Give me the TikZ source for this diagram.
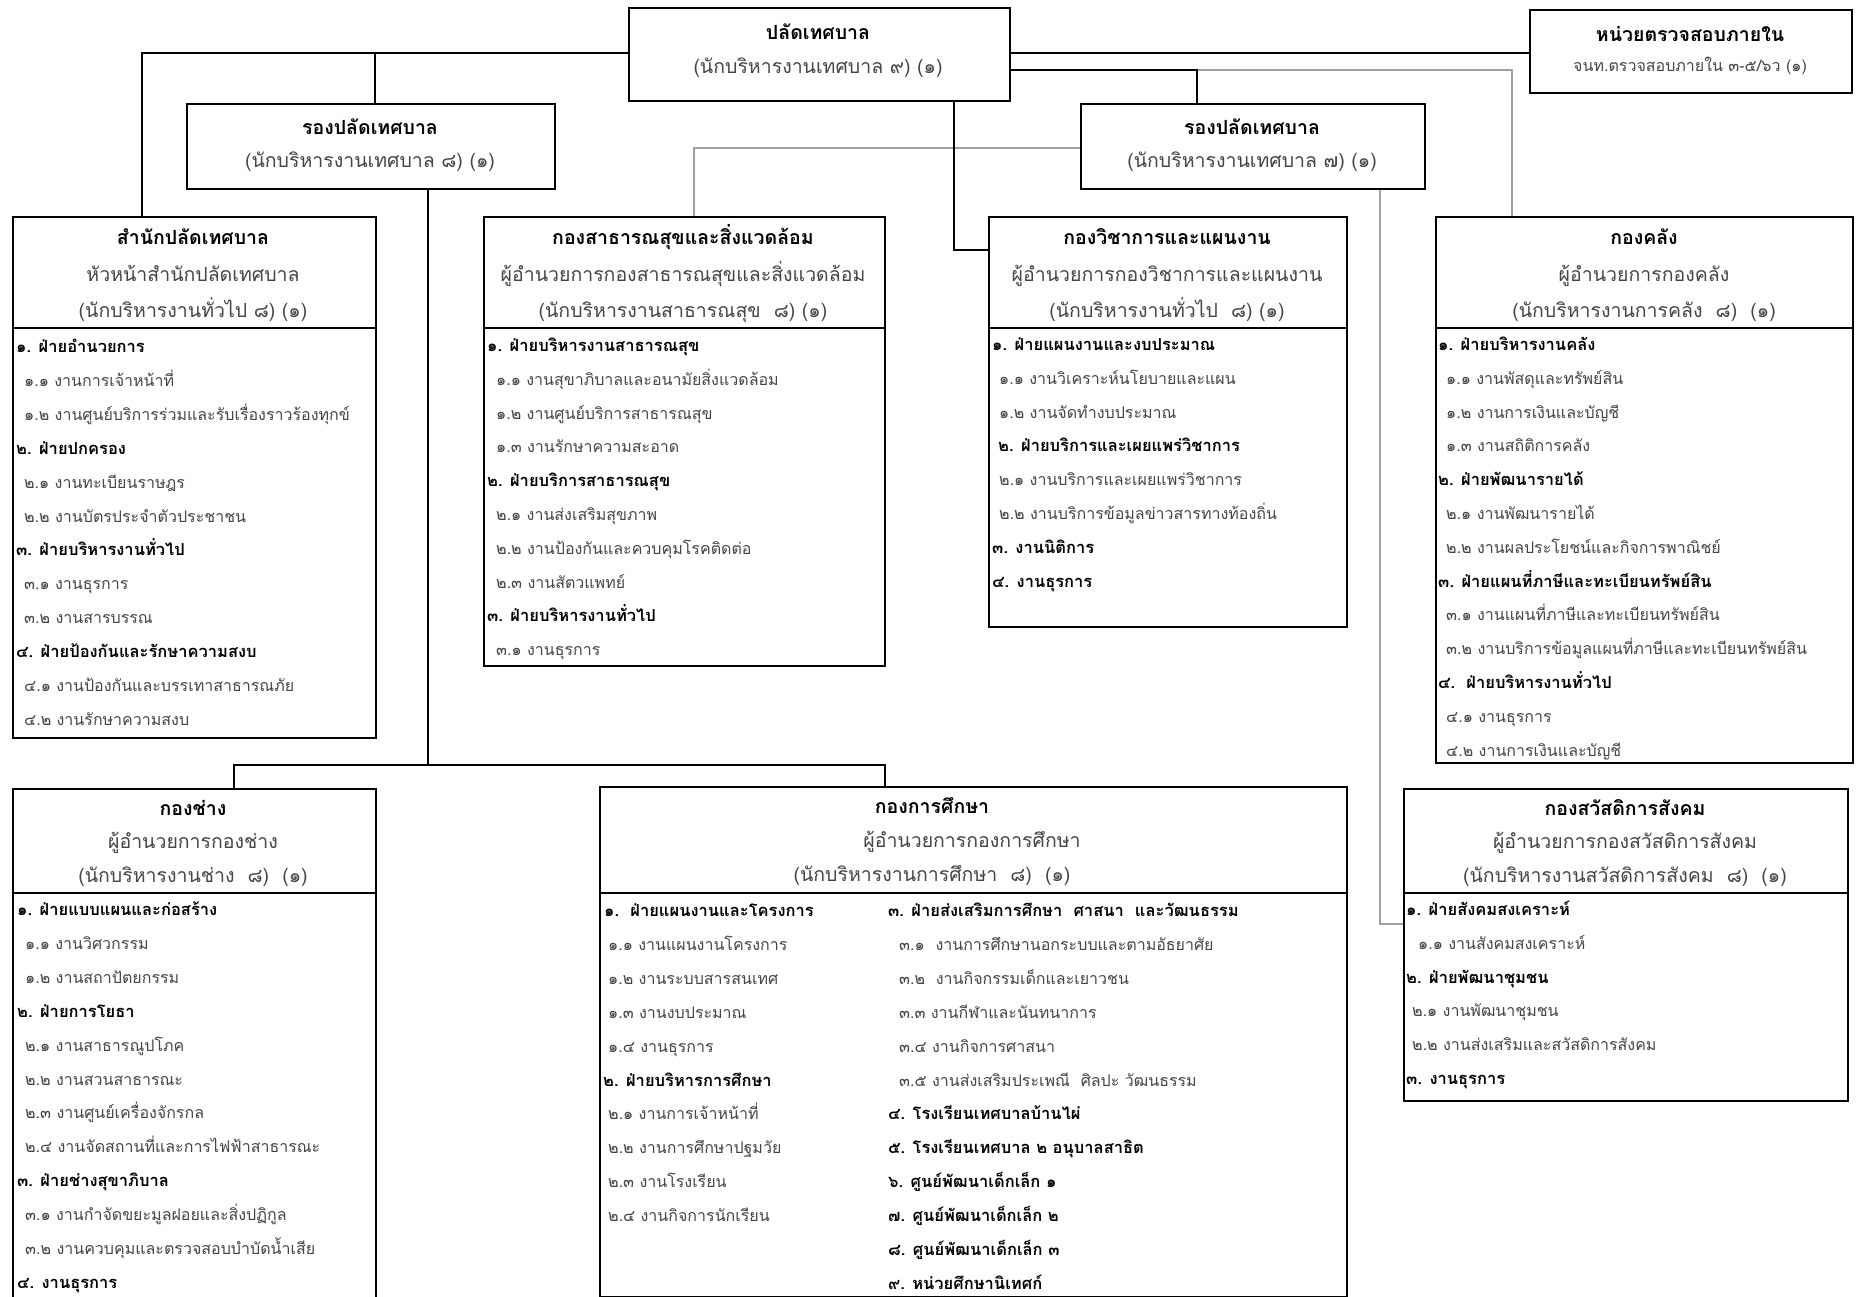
\documentclass[tikz,border=0pt]{standalone}
\usepackage{fontspec}
\newfontfamily\thai[Script=Thai]{Loma}
\usetikzlibrary{calc}
\definecolor{txt}{HTML}{454545}
\definecolor{gline}{HTML}{A0A0A0}
\newcommand\B[1]{\textbf{\color{black}#1}}
\newcommand\BI[1]{{\fontsize{16.5}{19}\selectfont\textbf{\color{black}#1}}}
\newcommand\hdsize{\thai\fontsize{19.5}{22}\selectfont}
\newcommand\itsize{\thai\fontsize{16}{19}\selectfont}
% box: name, x1, y1, x2, y2
\newcommand\orgbox[5]{\node[orgrect, minimum width={#4-#2}, minimum height={#5-#3}] (#1) at (#2,#3) {};}
% header line: name, x, y, text
\newcommand\hd[4]{\node[hdtext] (#1) at (#2,#3+6.5) {#4};}
% item list: prefix, x0, y0, step, list of offset/text
\newcommand\items[5]{\foreach \k/\t [count=\i from 0] in {#5} {\node[itmtext] (#1-\i) at (#2+\k,#3+\i*#4+5.5) {\t};}}
\begin{document}
\begin{tikzpicture}[x=1pt,y=-1pt,
  orgrect/.style={draw, line width=2pt, inner sep=0pt, anchor=north west},
  sepline/.style={line width=2pt},
  conn/.style={line width=2pt, black},
  gconn/.style={line width=1.3pt, gline},
  hdtext/.style={inner sep=0pt, anchor=base, font=\hdsize, text=txt},
  itmtext/.style={inner sep=0pt, anchor=base west, font=\itsize, text=txt}]
\fill[white] (0,0) rectangle (1859,1297);
\useasboundingbox (0,0) rectangle (1859,1297);
\clip (0,0) rectangle (1859,1297);

% ---------- boxes ----------
\orgbox{palad}{628}{7}{1009}{100}
\orgbox{audit}{1529}{9}{1851}{92}
\orgbox{dep8}{186}{103}{554}{188}
\orgbox{dep7}{1080}{103}{1424}{188}
\orgbox{s1}{12}{216}{375}{737}
\orgbox{s2}{483}{216}{884}{665}
\orgbox{s3}{988}{216}{1346}{626}
\orgbox{s4}{1435}{216}{1852}{762}
\orgbox{s5}{12}{788}{375}{1310}
\orgbox{s6}{599}{786}{1346}{1296}
\orgbox{s7}{1403}{788}{1847}{1100}

\draw[sepline] (s1.west |- 0,328) -- (s1.east |- 0,328);
\draw[sepline] (s2.west |- 0,328) -- (s2.east |- 0,328);
\draw[sepline] (s3.west |- 0,328) -- (s3.east |- 0,328);
\draw[sepline] (s4.west |- 0,328) -- (s4.east |- 0,328);
\draw[sepline] (s5.west |- 0,893) -- (s5.east |- 0,893);
\draw[sepline] (s6.west |- 0,893) -- (s6.east |- 0,893);
\draw[sepline] (s7.west |- 0,893) -- (s7.east |- 0,893);

% ---------- connectors ----------
\coordinate (jL) at (142,53);
\coordinate (jD8) at (375,53);
\coordinate (jR) at (1197,70);
\coordinate (jK) at (1512,70);
\coordinate (jS) at (694,148);
\coordinate (jV) at (954,250);
\coordinate (jB) at (428,765);
\coordinate (jC) at (234,765);
\coordinate (jE) at (885,765);
\coordinate (jW) at (1380,924);

\draw[conn] (palad.west |- jL) -- (jL) -- (jL |- s1.north);
\draw[conn] (jD8) -- (jD8 |- dep8.north);
\draw[conn] (palad.east |- jL) -- (audit.west |- jL);
\draw[gconn] (jR) -- (jK) -- (jK |- s4.north);
\draw[conn] (palad.east |- jR) -- (jR) -- (jR |- dep7.north);
\draw[gconn] (dep7.west |- jS) -- (jS) -- (jS |- s2.north);
\draw[conn] (jV |- palad.south) -- (jV) -- (s3.west |- jV);
\draw[conn] (jB |- dep8.south) -- (jB);
\draw[conn] (jC |- s5.north) -- (jC) -- (jE) -- (jE |- s6.north);
\draw[gconn] (jW |- dep7.south) -- (jW) -- (s7.west |- jW);

% ---------- top boxes text ----------
\hd{paladA}{818}{33}{\B{ปลัดเทศบาล}}
\hd{paladB}{818}{67}{(นักบริหารงานเทศบาล ๙) (๑)}
\hd{auditA}{1690}{35}{\B{หน่วยตรวจสอบภายใน}}
\node[itmtext, anchor=base] (auditB) at (1690,66+5.5) {จนท.ตรวจสอบภายใน ๓-๕/๖ว (๑)};
\hd{dep8A}{370}{128}{\B{รองปลัดเทศบาล}}
\hd{dep8B}{370}{161}{(นักบริหารงานเทศบาล ๘) (๑)}
\hd{dep7A}{1252}{128}{\B{รองปลัดเทศบาล}}
\hd{dep7B}{1252}{161}{(นักบริหารงานเทศบาล ๗) (๑)}

% ---------- row 2 headers ----------
\hd{s1A}{193}{238}{\B{สำนักปลัดเทศบาล}}
\hd{s1B}{193}{275}{หัวหน้าสำนักปลัดเทศบาล}
\hd{s1C}{193}{311}{(นักบริหารงานทั่วไป ๘) (๑)}
\hd{s2A}{683}{238}{\B{กองสาธารณสุขและสิ่งแวดล้อม}}
\hd{s2B}{683}{275}{ผู้อำนวยการกองสาธารณสุขและสิ่งแวดล้อม}
\hd{s2C}{683}{311}{(นักบริหารงานสาธารณสุข~~๘) (๑)}
\hd{s3A}{1167}{238}{\B{กองวิชาการและแผนงาน}}
\hd{s3B}{1167}{275}{ผู้อำนวยการกองวิชาการและแผนงาน}
\hd{s3C}{1167}{311}{(นักบริหารงานทั่วไป~~๘) (๑)}
\hd{s4A}{1644}{238}{\B{กองคลัง}}
\hd{s4B}{1644}{275}{ผู้อำนวยการกองคลัง}
\hd{s4C}{1644}{311}{(นักบริหารงานการคลัง~~๘)~~(๑)}

% ---------- row 3 headers ----------
\hd{s5A}{193}{809}{\B{กองช่าง}}
\hd{s5B}{193}{842}{ผู้อำนวยการกองช่าง}
\hd{s5C}{193}{876}{(นักบริหารงานช่าง~~๘)~~(๑)}
\hd{s6A}{932}{807}{\B{กองการศึกษา}}
\hd{s6B}{972}{841}{ผู้อำนวยการกองการศึกษา}
\hd{s6C}{932}{875}{(นักบริหารงานการศึกษา~~๘)~~(๑)}
\hd{s7A}{1625}{809}{\B{กองสวัสดิการสังคม}}
\hd{s7B}{1625}{842}{ผู้อำนวยการกองสวัสดิการสังคม}
\hd{s7C}{1625}{876}{(นักบริหารงานสวัสดิการสังคม~~๘)~~(๑)}

% ---------- items ----------
\items{s1i}{12}{347}{33.9}{4/{\BI{๑. ฝ่ายอำนวยการ}}, 12/{๑.๑ งานการเจ้าหน้าที่}, 12/{๑.๒ งานศูนย์บริการร่วมและรับเรื่องราวร้องทุกข์}, 4/{\BI{๒. ฝ่ายปกครอง}}, 12/{๒.๑ งานทะเบียนราษฎร}, 12/{๒.๒ งานบัตรประจำตัวประชาชน}, 4/{\BI{๓. ฝ่ายบริหารงานทั่วไป}}, 12/{๓.๑ งานธุรการ}, 12/{๓.๒ งานสารบรรณ}, 4/{\BI{๔. ฝ่ายป้องกันและรักษาความสงบ}}, 12/{๔.๑ งานป้องกันและบรรเทาสาธารณภัย}, 12/{๔.๒ งานรักษาความสงบ}}

\items{s2i}{483}{346}{33.8}{4/{\BI{๑. ฝ่ายบริหารงานสาธารณสุข}}, 13/{๑.๑ งานสุขาภิบาลและอนามัยสิ่งแวดล้อม}, 13/{๑.๒ งานศูนย์บริการสาธารณสุข}, 13/{๑.๓ งานรักษาความสะอาด}, 4/{\BI{๒. ฝ่ายบริการสาธารณสุข}}, 13/{๒.๑ งานส่งเสริมสุขภาพ}, 13/{๒.๒ งานป้องกันและควบคุมโรคติดต่อ}, 13/{๒.๓ งานสัตวแพทย์}, 4/{\BI{๓. ฝ่ายบริหารงานทั่วไป}}, 13/{๓.๑ งานธุรการ}}

\items{s3i}{988}{345}{33.8}{4/{\BI{๑. ฝ่ายแผนงานและงบประมาณ}}, 11/{๑.๑ งานวิเคราะห์นโยบายและแผน}, 11/{๑.๒ งานจัดทำงบประมาณ}, 10/{\BI{๒. ฝ่ายบริการและเผยแพร่วิชาการ}}, 11/{๒.๑ งานบริการและเผยแพร่วิชาการ}, 11/{๒.๒ งานบริการข้อมูลข่าวสารทางท้องถิ่น}, 4/{\BI{๓. งานนิติการ}}, 4/{\BI{๔. งานธุรการ}}}

\items{s4i}{1435}{345}{33.8}{3/{\BI{๑. ฝ่ายบริหารงานคลัง}}, 11/{๑.๑ งานพัสดุและทรัพย์สิน}, 11/{๑.๒ งานการเงินและบัญชี}, 11/{๑.๓ งานสถิติการคลัง}, 3/{\BI{๒. ฝ่ายพัฒนารายได้}}, 11/{๒.๑ งานพัฒนารายได้}, 11/{๒.๒ งานผลประโยชน์และกิจการพาณิชย์}, 3/{\BI{๓. ฝ่ายแผนที่ภาษีและทะเบียนทรัพย์สิน}}, 11/{๓.๑ งานแผนที่ภาษีและทะเบียนทรัพย์สิน}, 11/{๓.๒ งานบริการข้อมูลแผนที่ภาษีและทะเบียนทรัพย์สิน}, 3/{\BI{๔.~~ฝ่ายบริหารงานทั่วไป}}, 11/{๔.๑ งานธุรการ}, 11/{๔.๒ งานการเงินและบัญชี}}

\items{s5i}{12}{910}{33.9}{5/{\BI{๑. ฝ่ายแบบแผนและก่อสร้าง}}, 13/{๑.๑ งานวิศวกรรม}, 13/{๑.๒ งานสถาปัตยกรรม}, 5/{\BI{๒. ฝ่ายการโยธา}}, 13/{๒.๑ งานสาธารณูปโภค}, 13/{๒.๒ งานสวนสาธารณะ}, 13/{๒.๓ งานศูนย์เครื่องจักรกล}, 13/{๒.๔ งานจัดสถานที่และการไฟฟ้าสาธารณะ}, 5/{\BI{๓. ฝ่ายช่างสุขาภิบาล}}, 13/{๓.๑ งานกำจัดขยะมูลฝอยและสิ่งปฏิกูล}, 13/{๓.๒ งานควบคุมและตรวจสอบบำบัดน้ำเสีย}, 5/{\BI{๔. งานธุรการ}}}

\items{s6l}{599}{911}{33.9}{5/{\BI{๑.~~ฝ่ายแผนงานและโครงการ}}, 9/{๑.๑ งานแผนงานโครงการ}, 9/{๑.๒ งานระบบสารสนเทศ}, 9/{๑.๓ งานงบประมาณ}, 9/{๑.๔ งานธุรการ}, 4/{\BI{๒. ฝ่ายบริหารการศึกษา}}, 9/{๒.๑ งานการเจ้าหน้าที่}, 9/{๒.๒ งานการศึกษาปฐมวัย}, 9/{๒.๓ งานโรงเรียน}, 9/{๒.๔ งานกิจการนักเรียน}}

\items{s6r}{888}{911}{33.9}{0/{\BI{๓. ฝ่ายส่งเสริมการศึกษา~~ศาสนา~~และวัฒนธรรม}}, 11/{๓.๑~~งานการศึกษานอกระบบและตามอัธยาศัย}, 11/{๓.๒~~งานกิจกรรมเด็กและเยาวชน}, 11/{๓.๓ งานกีฬาและนันทนาการ}, 11/{๓.๔ งานกิจการศาสนา}, 11/{๓.๕ งานส่งเสริมประเพณี~~ศิลปะ วัฒนธรรม}, 0/{\BI{๔. โรงเรียนเทศบาลบ้านไผ่}}, 0/{\BI{๕. โรงเรียนเทศบาล ๒ อนุบาลสาธิต}}, 0/{\BI{๖. ศูนย์พัฒนาเด็กเล็ก ๑}}, 0/{\BI{๗. ศูนย์พัฒนาเด็กเล็ก ๒}}, 0/{\BI{๘. ศูนย์พัฒนาเด็กเล็ก ๓}}, 0/{\BI{๙. หน่วยศึกษานิเทศก์}}}

\items{s7i}{1403}{910}{33.8}{3/{\BI{๑. ฝ่ายสังคมสงเคราะห์}}, 15/{๑.๑ งานสังคมสงเคราะห์}, 3/{\BI{๒. ฝ่ายพัฒนาชุมชน}}, 9/{๒.๑ งานพัฒนาชุมชน}, 9/{๒.๒ งานส่งเสริมและสวัสดิการสังคม}, 3/{\BI{๓. งานธุรการ}}}
\end{tikzpicture}
\end{document}
